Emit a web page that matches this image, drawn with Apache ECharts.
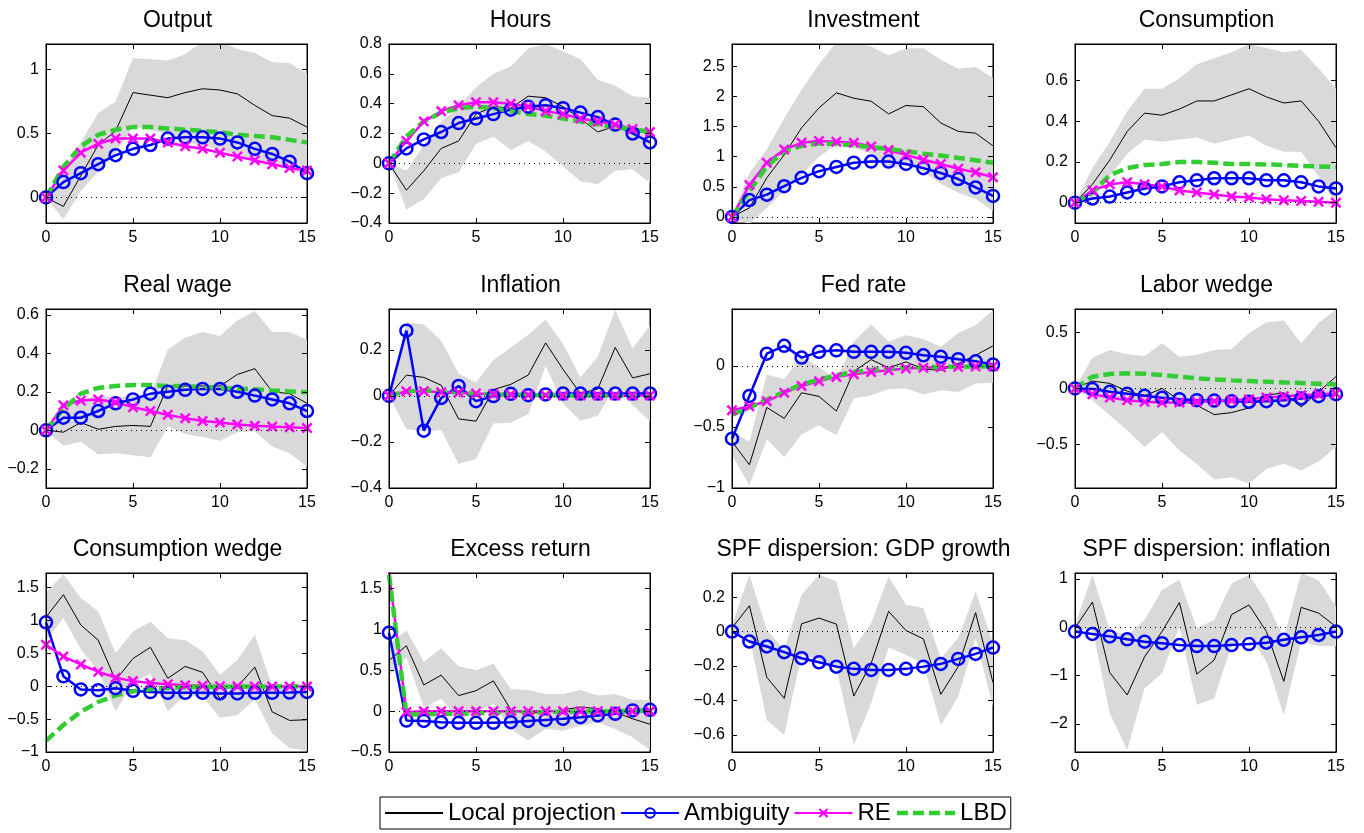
<!DOCTYPE html>
<html>
<head>
<meta charset="utf-8">
<script src="https://cdn.jsdelivr.net/npm/echarts@6/dist/echarts.min.js"></script>
<style>
  html, body { margin: 0; padding: 0; background: #fff; }
  #chart { width: 1364px; height: 833px; }
</style>
</head>
<body>
<div id="chart"></div>
<script>
// horizon (quarters)
const steps = [0,1,2,3,4,5,6,7,8,9,10,11,12,13,14,15];
const xTicks = [0,5,10,15];

// Output
const outLP  = [0,-0.07,0.17,0.41,0.52,0.82,0.80,0.78,0.82,0.85,0.84,0.81,0.72,0.64,0.62,0.55];
const outHi  = [0,0.22,0.43,0.66,0.75,1.09,1.08,1.07,1.12,1.22,1.22,1.16,1.13,1.06,1.05,0.97];
const outLo  = [0,-0.17,0.05,0.20,0.35,0.55,0.53,0.49,0.43,0.41,0.37,0.34,0.29,0.27,0.23,0.16];
const outAmb = [0,0.12,0.19,0.26,0.33,0.38,0.41,0.46,0.47,0.47,0.46,0.43,0.38,0.34,0.28,0.19];
const outRE  = [0,0.21,0.35,0.42,0.46,0.46,0.46,0.43,0.40,0.38,0.35,0.32,0.29,0.26,0.23,0.21];
const outLBD = [0,0.24,0.40,0.49,0.53,0.55,0.55,0.54,0.53,0.52,0.51,0.49,0.48,0.47,0.45,0.43];
const outTicks = [0,0.5,1];

// Hours
const hrsLP  = [0,-0.18,-0.05,0.10,0.15,0.33,0.38,0.37,0.45,0.44,0.38,0.30,0.21,0.25,0.21,0.21];
const hrsHi  = [0,-0.05,0.12,0.28,0.38,0.51,0.60,0.65,0.77,0.80,0.75,0.70,0.56,0.52,0.45,0.44];
const hrsLo  = [0,-0.31,-0.24,-0.10,-0.06,0.13,0.18,0.09,0.15,0.08,-0.02,-0.12,-0.14,-0.05,-0.04,-0.13];
const hrsAmb = [0,0.10,0.16,0.21,0.27,0.30,0.33,0.36,0.38,0.39,0.37,0.34,0.31,0.26,0.20,0.14];
const hrsRE  = [0,0.15,0.28,0.35,0.39,0.41,0.41,0.40,0.38,0.35,0.33,0.30,0.28,0.26,0.23,0.21];
const hrsLBD = [0,0.18,0.28,0.34,0.37,0.38,0.37,0.35,0.33,0.32,0.30,0.28,0.26,0.24,0.23,0.21];
const hrsTicks = [-0.4,-0.2,0,0.2,0.4,0.6,0.8];

// Investment
const invLP  = [0,0.15,0.65,1.03,1.48,1.81,2.06,1.97,1.92,1.71,1.85,1.83,1.56,1.42,1.39,1.18];
const invHi  = [0,0.73,1.12,1.64,2.11,2.53,2.90,2.90,2.83,2.68,2.80,2.80,2.61,2.46,2.49,2.31];
const invLo  = [0,-0.12,0.15,0.43,0.70,1.00,1.20,1.15,1.05,0.80,0.85,0.75,0.55,0.40,0.30,0.10];
const invAmb = [0,0.28,0.37,0.51,0.65,0.76,0.83,0.90,0.92,0.92,0.88,0.81,0.73,0.63,0.49,0.35];
const invRE  = [0,0.53,0.90,1.12,1.23,1.26,1.25,1.23,1.17,1.11,1.03,0.95,0.88,0.80,0.74,0.66];
const invLBD = [0,0.43,0.84,1.09,1.18,1.22,1.21,1.19,1.16,1.13,1.09,1.05,1.02,0.98,0.94,0.90];
const invTicks = [0,0.5,1,1.5,2,2.5];

// Consumption
const conLP  = [0,0.09,0.21,0.35,0.44,0.43,0.46,0.50,0.50,0.53,0.56,0.52,0.49,0.50,0.40,0.27];
const conHi  = [0,0.17,0.30,0.45,0.56,0.56,0.61,0.68,0.71,0.74,0.78,0.76,0.74,0.75,0.66,0.56];
const conLo  = [0,0.02,0.13,0.24,0.31,0.30,0.31,0.32,0.29,0.31,0.33,0.28,0.25,0.25,0.13,-0.01];
const conAmb = [0,0.02,0.03,0.05,0.07,0.08,0.10,0.11,0.12,0.12,0.12,0.11,0.11,0.10,0.08,0.07];
const conRE  = [0,0.06,0.09,0.10,0.09,0.08,0.06,0.05,0.04,0.03,0.025,0.017,0.012,0.008,0.005,0];
const conLBD = [0,0.05,0.135,0.17,0.185,0.19,0.20,0.20,0.196,0.19,0.19,0.188,0.185,0.18,0.178,0.175];
const conTicks = [0,0.2,0.4,0.6];

// Real wage
const rwLP  = [0,-0.01,0.04,0.005,0.02,0.025,0.02,0.23,0.23,0.23,0.23,0.29,0.32,0.20,0.19,0.14];
const rwHi  = [0,0.14,0.16,0.18,0.17,0.18,0.18,0.42,0.48,0.51,0.49,0.57,0.62,0.51,0.51,0.47];
const rwLo  = [0,-0.08,-0.06,-0.125,-0.12,-0.13,-0.14,0.02,-0.02,-0.035,-0.055,-0.01,-0.005,-0.085,-0.12,-0.19];
const rwAmb = [0,0.065,0.065,0.10,0.14,0.16,0.19,0.20,0.21,0.215,0.215,0.20,0.18,0.16,0.14,0.10];
const rwRE  = [0,0.13,0.155,0.16,0.145,0.12,0.10,0.08,0.063,0.048,0.04,0.03,0.024,0.019,0.015,0.012];
const rwLBD = [0,0.11,0.19,0.22,0.23,0.235,0.235,0.23,0.228,0.225,0.22,0.216,0.213,0.207,0.202,0.197];
const rwTicks = [-0.2,0,0.2,0.4,0.6];

// Inflation
const infLP  = [0,0.09,0.08,0.046,-0.10,-0.11,0.027,0.05,0.09,0.23,0.115,0.01,0.03,0.21,0.078,0.096];
const infHi  = [0,0.32,0.31,0.24,0.096,0.058,0.154,0.21,0.265,0.33,0.226,0.08,0.17,0.374,0.205,0.305];
const infLo  = [0,-0.144,-0.155,-0.148,-0.296,-0.273,-0.12,-0.117,-0.08,0.13,-0.033,-0.108,-0.086,0.039,-0.04,-0.11];
const infAmb = [0,0.283,-0.151,-0.009,0.043,-0.023,-0.001,0.009,0.003,0.006,0.01,0.01,0.01,0.01,0.01,0.01];
const infRE  = [0,0.02,0.02,0.016,0.013,0.01,0.007,0.005,0.004,0.003,0.002,0.002,0.001,0.001,0.001,0.001];
const infLBD = [0,0.019,0.024,0.019,0.014,0.01,0.007,0.005,0.004,0.003,0.002,0.001,0.001,0,0,0];
const infTicks = [-0.4,-0.2,0,0.2];

// Fed rate
const fedLP  = [-0.62,-0.81,-0.34,-0.43,-0.22,-0.25,-0.37,-0.044,0.052,-0.016,0.033,-0.027,-0.036,0.02,0.087,0.164];
const fedHi  = [-0.54,-0.62,-0.07,-0.11,0.074,-0.008,-0.117,0.20,0.34,0.20,0.25,0.22,0.156,0.27,0.333,0.456];
const fedLo  = [-0.73,-0.98,-0.60,-0.746,-0.56,-0.486,-0.568,-0.268,-0.24,-0.19,-0.186,-0.235,-0.20,-0.213,-0.145,-0.137];
const fedAmb = [-0.596,-0.246,0.10,0.164,0.068,0.115,0.128,0.115,0.115,0.115,0.107,0.087,0.074,0.055,0.038,0.011];
const fedRE  = [-0.363,-0.33,-0.29,-0.22,-0.164,-0.126,-0.09,-0.068,-0.05,-0.036,-0.022,-0.016,-0.011,-0.008,-0.005,-0.003];
const fedLBD = [-0.40,-0.34,-0.276,-0.213,-0.153,-0.112,-0.077,-0.05,-0.033,-0.022,-0.014,-0.011,-0.008,-0.007,-0.005,-0.003];
const fedTicks = [-1,-0.5,0];

// Labor wedge
const lwLP  = [0,0.066,0.045,-0.024,-0.066,0,-0.105,-0.15,-0.234,-0.216,-0.174,-0.06,-0.039,-0.165,-0.03,0.105];
const lwHi  = [0,0.275,0.344,0.305,0.29,0.404,0.284,0.30,0.344,0.353,0.494,0.59,0.608,0.404,0.584,0.704];
const lwLo  = [0,-0.105,-0.24,-0.374,-0.524,-0.389,-0.554,-0.674,-0.814,-0.793,-0.853,-0.719,-0.674,-0.734,-0.653,-0.524];
const lwAmb = [0,-0.006,-0.03,-0.048,-0.066,-0.084,-0.096,-0.105,-0.108,-0.114,-0.12,-0.114,-0.105,-0.09,-0.069,-0.051];
const lwRE  = [0,-0.051,-0.081,-0.105,-0.12,-0.126,-0.126,-0.12,-0.114,-0.105,-0.096,-0.081,-0.069,-0.06,-0.054,-0.045];
const lwLBD = [0,0.105,0.129,0.135,0.132,0.12,0.105,0.09,0.081,0.072,0.066,0.06,0.054,0.048,0.042,0.036];
const lwTicks = [-0.5,0,0.5];

// Consumption wedge
const cwLP  = [1.05,1.39,0.93,0.70,0.09,0.42,0.59,0.12,0.30,0.21,-0.19,-0.01,0.29,-0.39,-0.52,-0.51];
const cwHi  = [1.42,1.70,1.34,1.14,0.50,0.83,0.98,0.73,0.70,0.53,0.17,0.40,0.78,-0.01,0.015,0.04];
const cwLo  = [0.68,1.04,0.56,0.24,-0.38,0.05,0.19,-0.38,-0.14,-0.16,-0.48,-0.44,-0.20,-0.72,-0.94,-0.98];
const cwAmb = [0.97,0.15,-0.05,-0.06,-0.03,-0.07,-0.09,-0.10,-0.10,-0.10,-0.11,-0.11,-0.10,-0.10,-0.097,-0.087];
const cwRE  = [0.63,0.45,0.33,0.22,0.13,0.077,0.05,0.03,0.015,0.005,0,0,-0.003,-0.004,-0.005,-0.005];
const cwLBD = [-0.83,-0.59,-0.39,-0.24,-0.14,-0.077,-0.046,-0.026,-0.015,-0.01,-0.007,-0.005,-0.004,-0.003,-0.002,-0.001];
const cwTicks = [-1,-0.5,0,0.5,1,1.5];

// Excess return
const erLP  = [0.62,0.80,0.32,0.44,0.19,0.25,0.37,0.016,-0.03,-0.01,0.016,0.05,0.03,-0.012,-0.094,-0.16];
const erHi  = [0.81,0.99,0.60,0.77,0.55,0.50,0.58,0.27,0.26,0.21,0.21,0.26,0.19,0.21,0.14,0.14];
const erLo  = [0.44,0.66,0.05,0.15,-0.11,-0.01,0.09,-0.22,-0.36,-0.22,-0.24,-0.18,-0.135,-0.22,-0.32,-0.475];
const erAmb = [0.96,-0.115,-0.12,-0.135,-0.143,-0.143,-0.143,-0.135,-0.12,-0.107,-0.094,-0.074,-0.053,-0.033,0.008,0.016];
const erRE  = [1.70,-0.012,0,0,0,0,0,0,0,0,0,0,0,0,0,0];
const erLBD = [1.67,-0.04,-0.04,-0.033,-0.033,-0.025,-0.022,-0.018,-0.015,-0.012,-0.008,-0.005,-0.002,0,0.004,0.008];
const erTicks = [-0.5,0,0.5,1,1.5];

// SPF dispersion: GDP growth
const sgLP  = [0.02,0.15,-0.266,-0.388,0.045,0.078,0.043,-0.375,-0.184,0.117,0.006,-0.043,-0.365,-0.204,0.11,-0.297];
const sgHi  = [0.04,0.33,0.01,-0.107,0.214,0.33,0.29,-0.097,0.049,0.32,0.155,0.136,-0.155,-0.039,0.233,-0.068];
const sgLo  = [-0.01,-0.03,-0.515,-0.60,-0.136,-0.165,-0.214,-0.66,-0.417,-0.091,-0.136,-0.184,-0.544,-0.379,-0.039,-0.437];
const sgAmb = [0,-0.058,-0.087,-0.12,-0.155,-0.179,-0.204,-0.217,-0.223,-0.223,-0.217,-0.204,-0.188,-0.159,-0.13,-0.093];
const sgTicks = [-0.6,-0.4,-0.2,0,0.2];

// SPF dispersion: inflation
const siLP  = [-0.02,0.52,-0.94,-1.40,-0.61,-0.09,0.51,-0.97,-0.68,0.26,0.46,-0.09,-1.12,0.41,0.29,0.01];
const siHi  = [0.05,1.08,-0.06,-0.16,0.15,0.77,0.98,-0.02,0.15,0.91,1.08,0.53,-0.23,1.12,0.97,0.43];
const siLo  = [-0.09,-0.02,-1.78,-2.54,-1.26,-0.95,0.01,-1.61,-1.47,-0.37,-0.16,-0.71,-1.81,-0.30,-0.39,-0.39];
const siAmb = [-0.09,-0.14,-0.19,-0.25,-0.30,-0.33,-0.37,-0.39,-0.39,-0.37,-0.35,-0.32,-0.26,-0.21,-0.16,-0.09];
const siTicks = [-2,-1,0,1];

const panels = [
  {title:'Output', lp:outLP, hi:outHi, lo:outLo, amb:outAmb, re:outRE, lbd:outLBD, ticks:outTicks, min:-0.2, max:1.2},
  {title:'Hours', lp:hrsLP, hi:hrsHi, lo:hrsLo, amb:hrsAmb, re:hrsRE, lbd:hrsLBD, ticks:hrsTicks, min:-0.4, max:0.8},
  {title:'Investment', lp:invLP, hi:invHi, lo:invLo, amb:invAmb, re:invRE, lbd:invLBD, ticks:invTicks, min:-0.1, max:2.87},
  {title:'Consumption', lp:conLP, hi:conHi, lo:conLo, amb:conAmb, re:conRE, lbd:conLBD, ticks:conTicks, min:-0.1, max:0.78},
  {title:'Real wage', lp:rwLP, hi:rwHi, lo:rwLo, amb:rwAmb, re:rwRE, lbd:rwLBD, ticks:rwTicks, min:-0.3, max:0.63},
  {title:'Inflation', lp:infLP, hi:infHi, lo:infLo, amb:infAmb, re:infRE, lbd:infLBD, ticks:infTicks, min:-0.4, max:0.377},
  {title:'Fed rate', lp:fedLP, hi:fedHi, lo:fedLo, amb:fedAmb, re:fedRE, lbd:fedLBD, ticks:fedTicks, min:-1, max:0.466},
  {title:'Labor wedge', lp:lwLP, hi:lwHi, lo:lwLo, amb:lwAmb, re:lwRE, lbd:lwLBD, ticks:lwTicks, min:-0.89, max:0.71},
  {title:'Consumption wedge', lp:cwLP, hi:cwHi, lo:cwLo, amb:cwAmb, re:cwRE, lbd:cwLBD, ticks:cwTicks, min:-1, max:1.72},
  {title:'Excess return', lp:erLP, hi:erHi, lo:erLo, amb:erAmb, re:erRE, lbd:erLBD, ticks:erTicks, min:-0.5, max:1.69},
  {title:'SPF dispersion: GDP growth', lp:sgLP, hi:sgHi, lo:sgLo, amb:sgAmb, ticks:sgTicks, min:-0.7, max:0.34},
  {title:'SPF dispersion: inflation', lp:siLP, hi:siHi, lo:siLo, amb:siAmb, ticks:siTicks, min:-2.58, max:1.12}
];

const FONT = '"Liberation Sans", Arial, Helvetica, sans-serif';
const lefts = [46, 389, 732, 1075];
const tops = [44, 309, 573];
const W = 261, H = 179;
// bold "x" marker used for the RE series
const X_MARK = 'path://M0,1.6 L1.6,0 L5,3.4 L8.4,0 L10,1.6 L6.6,5 L10,8.4 L8.4,10 L5,6.6 L1.6,10 L0,8.4 L3.4,5 Z';

const pts = arr => steps.map((s, i) => [s, arr[i]]);
const fmt = v => (v < 0 ? '\u2212' : '') + Math.abs(v);

const grid = [], xAxis = [], yAxis = [], title = [], series = [];
const axLine = { onZero: false, lineStyle: { color: '#000', width: 1 } };

panels.forEach((p, i) => {
  const r = Math.floor(i / 4), c = i % 4;
  grid.push({ left: lefts[c], top: tops[r], width: W, height: H, show: true, borderColor: '#000', borderWidth: 1 });
  title.push({
    text: p.title, left: lefts[c] + W / 2 + 1, top: tops[r] - 35, textAlign: 'center', padding: 0,
    textStyle: { fontSize: 23, fontWeight: 'normal', color: '#000', fontFamily: FONT }
  });
  xAxis.push({
    gridIndex: i, type: 'value', min: 0, max: 15, z: 10,
    axisLine: axLine, splitLine: { show: false },
    axisTick: { inside: true, length: 5, customValues: xTicks, lineStyle: { color: '#000' } },
    axisLabel: { customValues: xTicks, color: '#000', fontSize: 16, margin: 7, fontFamily: FONT }
  });
  xAxis.push({
    gridIndex: i, type: 'value', min: 0, max: 15, position: 'top', z: 10,
    axisLine: axLine, splitLine: { show: false },
    axisTick: { inside: true, length: 5, customValues: xTicks, lineStyle: { color: '#000' } },
    axisLabel: { show: false }
  });
  yAxis.push({
    gridIndex: i, type: 'value', min: p.min, max: p.max, z: 10,
    axisLine: axLine, splitLine: { show: false },
    axisTick: { inside: true, length: 5, customValues: p.ticks, lineStyle: { color: '#000' } },
    axisLabel: { customValues: p.ticks, formatter: fmt, color: '#000', fontSize: 16, margin: 7, fontFamily: FONT }
  });
  yAxis.push({
    gridIndex: i, type: 'value', min: p.min, max: p.max, position: 'right', z: 10,
    axisLine: axLine, splitLine: { show: false },
    axisTick: { inside: true, length: 5, customValues: p.ticks, lineStyle: { color: '#000' } },
    axisLabel: { show: false }
  });

  const xi = 2 * i, yi = 2 * i;
  // confidence band: one polygon through the upper edge and back along the lower edge
  series.push({
    type: 'custom', xAxisIndex: xi, yAxisIndex: yi, clip: true, silent: true,
    data: steps.map((s, k) => [s, p.lo[k], p.hi[k]]),
    encode: { x: 0, y: [1, 2] },
    renderItem: (params, api) => {
      if (params.dataIndex !== 0) return null;
      const up = steps.map((s, k) => api.coord([s, p.hi[k]]));
      const dn = steps.map((s, k) => api.coord([s, p.lo[k]])).reverse();
      return { type: 'polygon', shape: { points: up.concat(dn) }, style: { fill: '#d9d9d9' } };
    }
  });
  series.push({
    name: 'Local projection', type: 'line', xAxisIndex: xi, yAxisIndex: yi,
    data: pts(p.lp), symbol: 'none', lineStyle: { color: '#000', width: 1 }, itemStyle: { color: '#000' },
    markLine: {
      silent: true, symbol: ['none', 'none'], label: { show: false },
      lineStyle: { color: '#000', type: [1, 4], width: 1 }, data: [{ yAxis: 0 }]
    }
  });
  series.push({
    name: 'Ambiguity', type: 'line', xAxisIndex: xi, yAxisIndex: yi,
    data: pts(p.amb), symbol: 'circle', symbolSize: 12,
    lineStyle: { color: '#0000ff', width: 2.5 },
    itemStyle: { color: 'rgba(255,255,255,0)', borderColor: '#0000ff', borderWidth: 2.5 }
  });
  if (p.re) {
    series.push({
      name: 'RE', type: 'line', xAxisIndex: xi, yAxisIndex: yi,
      data: pts(p.re), symbol: X_MARK, symbolSize: 11,
      lineStyle: { color: '#ff00ff', width: 2.5 }, itemStyle: { color: '#ff00ff' }
    });
  }
  if (p.lbd) {
    series.push({
      name: 'LBD', type: 'line', xAxisIndex: xi, yAxisIndex: yi,
      data: pts(p.lbd), symbol: 'none',
      lineStyle: { color: '#33cc33', width: 4.5, type: [11, 5] }, itemStyle: { color: '#33cc33' }
    });
  }
});

const chart = echarts.init(document.getElementById('chart'));
chart.setOption({
  animation: false,
  backgroundColor: '#fff',
  textStyle: { fontFamily: FONT },
  title: title,
  grid: grid,
  xAxis: xAxis,
  yAxis: yAxis,
  legend: {
    data: [
      { name: 'Local projection', itemStyle: { opacity: 0 } },
      { name: 'Ambiguity' },
      { name: 'RE' },
      { name: 'LBD', itemStyle: { opacity: 0 }, lineStyle: { width: 4.5, type: [11, 5] } }
    ],
    left: 380, top: 797, itemWidth: 58, itemHeight: 12, itemGap: 4,
    padding: [4, 4], borderColor: '#000', borderWidth: 1,
    textStyle: { fontSize: 24, color: '#000', fontFamily: FONT }
  },
  series: series
});
</script>
</body>
</html>
